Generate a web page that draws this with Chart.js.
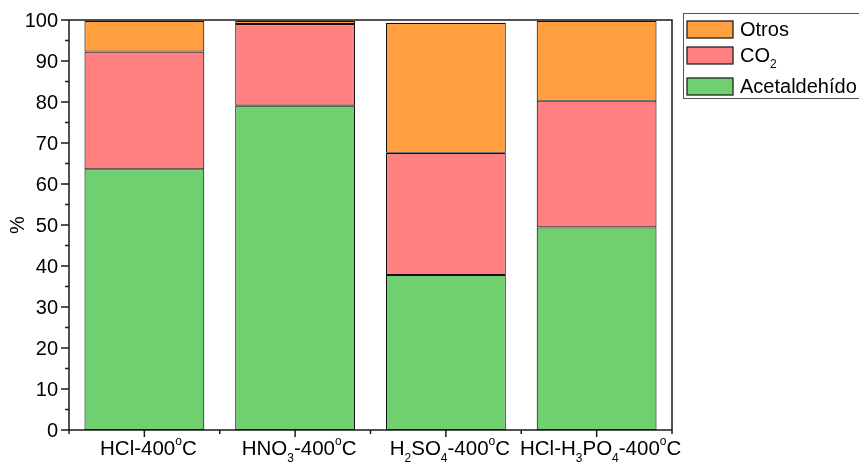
<!DOCTYPE html>
<html>
<head>
<meta charset="utf-8">
<script src="https://cdn.jsdelivr.net/npm/chart.js@4"></script>
<style>
  html, body { margin: 0; padding: 0; background: #fff; }
  #wrap { width: 859px; height: 465px; position: relative; }
</style>
</head>
<body>
<div id="wrap"><canvas id="c" width="859" height="465"></canvas></div>
<script>
// ---- data ----
const categories = ['HCl-400°C', 'HNO3-400°C', 'H2SO4-400°C', 'HCl-H3PO4-400°C'];
const acetaldehido = [63.6, 79.1, 37.8, 49.4];
const co2 = [28.7, 19.9, 29.8, 30.9];
const otros = [7.5, 0.8, 31.7, 19.5];
const seriesNames = ['Acetaldehído', 'CO2', 'Otros'];
const yTicks = [0, 10, 20, 30, 40, 50, 60, 70, 80, 90, 100];
const yTitle = '%';

const FONT = '"Liberation Sans", Arial, sans-serif';
const COLORS = ['#70d070', '#ff8080', '#ff9f40'];

// parse label into runs: digits after a letter -> subscript, ° -> superscript o
function parseRuns(s) {
  const runs = [];
  for (let i = 0; i < s.length; i++) {
    const ch = s[i];
    let type = 'n', txt = ch;
    if (/[0-9]/.test(ch) && i > 0 && /[A-Za-z]/.test(s[i - 1])) type = 'sub';
    else if (ch === '°') { type = 'sup'; txt = 'o'; }
    const last = runs[runs.length - 1];
    if (last && last.type === type) last.txt += txt; else runs.push({ type, txt });
  }
  return runs;
}
function runFont(type, size) {
  return (type === 'n' ? size : Math.round(size * 0.58)) + 'px ' + FONT;
}
function measureRuns(ctx, runs, size) {
  let w = 0;
  for (const r of runs) { ctx.font = runFont(r.type, size); w += ctx.measureText(r.txt).width; }
  return w;
}
function drawRuns(ctx, runs, x, y, size) {
  ctx.textBaseline = 'middle';
  ctx.textAlign = 'left';
  for (const r of runs) {
    ctx.font = runFont(r.type, size);
    let dy = 0;
    if (r.type === 'sub') dy = size * 0.45;
    if (r.type === 'sup') dy = -size * 0.38;
    ctx.fillText(r.txt, x, y + dy);
    x += ctx.measureText(r.txt).width;
  }
}

const axisPlugin = {
  id: 'axisDeco',
  afterDraw(chart) {
    const ctx = chart.ctx;
    const a = chart.chartArea;
    const xs = chart.scales.x, ys = chart.scales.y;
    ctx.save();
    ctx.strokeStyle = '#1a1a1a';
    ctx.fillStyle = '#000';
    ctx.lineWidth = 1.5;
    ctx.strokeRect(a.left, a.top, a.right - a.left, a.bottom - a.top);
    ctx.beginPath();
    for (let v = 0; v <= 100; v += 5) {
      const y = ys.getPixelForValue(v);
      const len = (v % 10 === 0) ? 8 : 4;
      ctx.moveTo(a.left - len, y); ctx.lineTo(a.left, y);
    }
    for (let i = 0; i < categories.length; i++) {
      const x = xs.getPixelForValue(i);
      ctx.moveTo(x, a.bottom); ctx.lineTo(x, a.bottom + 7);
    }
    for (let i = 0; i <= categories.length; i++) {
      const x = xs.getPixelForValue(i - 0.5);
      ctx.moveTo(x, a.bottom); ctx.lineTo(x, a.bottom + 4);
    }
    ctx.stroke();
    ctx.font = '20px ' + FONT;
    ctx.textAlign = 'right';
    ctx.textBaseline = 'middle';
    for (const v of yTicks) {
      ctx.fillText(String(v), a.left - 11, ys.getPixelForValue(v) + 1);
    }
    for (let i = 0; i < categories.length; i++) {
      const runs = parseRuns(categories[i]);
      const w = measureRuns(ctx, runs, 20.5);
      drawRuns(ctx, runs, xs.getPixelForValue(i) - w / 2 + 4, a.bottom + 19, 20.5);
    }
    ctx.save();
    ctx.translate(18, (a.top + a.bottom) / 2);
    ctx.rotate(-Math.PI / 2);
    ctx.font = '20px ' + FONT;
    ctx.textAlign = 'center';
    ctx.textBaseline = 'middle';
    ctx.fillText(yTitle, 0, 0);
    ctx.restore();

    const lx = 683.5, ly = 13.5, lw = 180, lh = 85;
    ctx.strokeStyle = '#555';
    ctx.lineWidth = 1;
    ctx.strokeRect(lx, ly, lw, lh);
    const order = [2, 1, 0];
    const rowsY = [21, 47, 78];
    order.forEach((di, k) => {
      const ds = chart.data.datasets[di];
      const sy = rowsY[k];
      ctx.fillStyle = ds.backgroundColor;
      ctx.fillRect(687, sy, 46, 17);
      ctx.strokeStyle = '#222';
      ctx.lineWidth = 1.3;
      ctx.strokeRect(687, sy, 46, 17);
      ctx.fillStyle = '#000';
      drawRuns(ctx, parseRuns(ds.label), 740, sy + 9, 20);
    });
    ctx.restore();
  }
};

const mk = (label, data, color) => ({
  label, data,
  backgroundColor: color,
  borderColor: '#111',
  borderWidth: 1.1,
  borderSkipped: false,
  barPercentage: 0.795,
  categoryPercentage: 1.0
});

new Chart(document.getElementById('c'), {
  type: 'bar',
  data: {
    labels: categories,
    datasets: [
      mk(seriesNames[0], acetaldehido, COLORS[0]),
      mk(seriesNames[1], co2, COLORS[1]),
      mk(seriesNames[2], otros, COLORS[2])
    ]
  },
  options: {
    responsive: false,
    animation: false,
    devicePixelRatio: 1,
    layout: { padding: { left: 69, top: 20, right: 859 - 672, bottom: 465 - 430 } },
    plugins: { legend: { display: false }, tooltip: { enabled: false } },
    scales: {
      x: { display: false, stacked: true },
      y: { display: false, stacked: true, min: 0, max: 100 }
    }
  },
  plugins: [axisPlugin]
});
</script>
</body>
</html>
